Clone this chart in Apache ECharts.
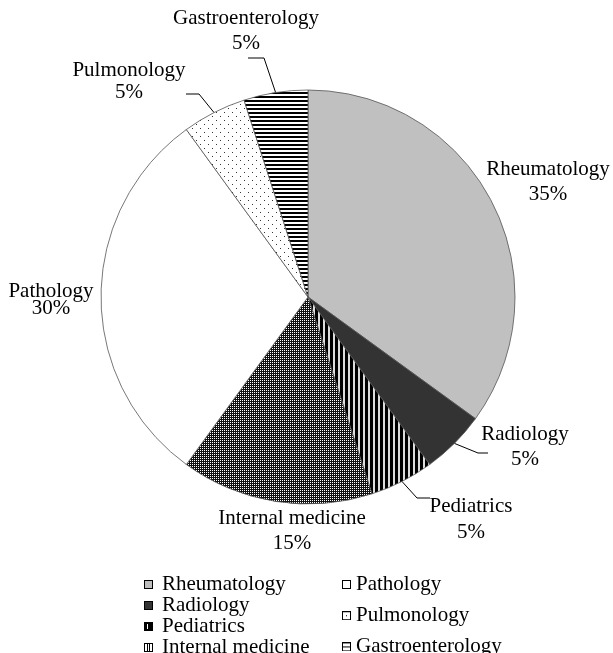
<!DOCTYPE html>
<html><head><meta charset="utf-8">
<script src="https://cdn.jsdelivr.net/npm/echarts@6/dist/echarts.min.js"></script>
<style>html,body{margin:0;padding:0;background:#fff}#c{width:613px;height:653px}</style>
</head><body><div id="c"></div>
<script>
const categories = ['Rheumatology','Radiology','Pediatrics','Internal medicine','Pathology','Pulmonology','Gastroenterology'];
const values = [35, 5, 5, 15, 30, 5, 5];
const percentLabels = ['35%','5%','5%','15%','30%','5%','5%'];

function canvasOf(w, h, draw) {
  const c = document.createElement('canvas');
  c.width = w; c.height = h;
  const g = c.getContext('2d');
  draw(g);
  return c;
}
function tile(w, h, draw) { return { image: canvasOf(w, h, draw), repeat: 'repeat' }; }

const fills = [
  '#c0c0c0',
  '#333333',
  tile(5, 5, g => { g.fillStyle = '#000'; g.fillRect(0,0,5,5); g.fillStyle = '#ddd'; g.fillRect(3,0,2,5); }),
  tile(2, 2, g => { g.fillStyle = '#111'; g.fillRect(0,0,2,2); g.fillStyle = '#fff'; g.fillRect(0,0,1,1); }),
  '#ffffff',
  tile(8, 8, g => { g.fillStyle = '#fff'; g.fillRect(0,0,8,8); g.fillStyle = '#333'; g.fillRect(0,0,1,1); g.fillRect(4,4,1,1); }),
  tile(4, 4, g => { g.fillStyle = '#fff'; g.fillRect(0,0,4,4); g.fillStyle = '#000'; g.fillRect(0,0,4,2); })
];

// legend icons (9x9)
function icon(draw) {
  const c = canvasOf(9, 9, g => {
    g.fillStyle = '#000'; g.fillRect(0,0,9,9);
    g.fillStyle = '#fff'; g.fillRect(1,1,7,7);
    draw(g);
  });
  return 'image://' + c.toDataURL();
}
const legendIcons = [
  icon(g => { g.fillStyle = '#bdbdbd'; g.fillRect(1,1,7,7); }),
  icon(g => { g.fillStyle = '#333'; g.fillRect(1,1,7,7); }),
  icon(g => { g.fillStyle = '#000'; g.fillRect(1,1,7,7); g.fillStyle = '#fff'; g.fillRect(3,2,1,5); }),
  icon(g => { g.fillStyle = '#000'; g.fillRect(3,1,1,7); g.fillRect(5,1,1,7); }),
  icon(g => {}),
  icon(g => { g.fillStyle = '#000'; g.fillRect(4,4,1,1); }),
  icon(g => { g.fillStyle = '#000'; g.fillRect(1,4,7,1); })
];

const showLine = [false, true, true, false, false, true, true];
// label block centre [x, y] and line height
const labelPos = {
  'Rheumatology': [548, 182, 25],
  'Radiology': [525, 447, 25],
  'Pediatrics': [471, 519, 26],
  'Internal medicine': [292, 531, 25],
  'Pathology': [51, 300, 17],
  'Pulmonology': [129, 81, 22],
  'Gastroenterology': [246, 30.5, 25]
};
// leader-line bend and end points
const linePts = {
  'Radiology': [[478, 453], [488, 453]],
  'Pediatrics': [[417, 498], [430, 498]],
  'Pulmonology': [[199, 94], [186, 94]],
  'Gastroenterology': [[264, 58], [248, 58]]
};

const font = '"Liberation Serif", "Times New Roman", serif';
const chart = echarts.init(document.getElementById('c'));
chart.setOption({
  animation: false,
  series: [{
    type: 'pie',
    center: [308, 297],
    radius: [0, 207],
    startAngle: 90,
    clockwise: true,
    data: categories.map((n, i) => ({
      name: n, value: values[i],
      itemStyle: { color: fills[i] },
      labelLine: { show: showLine[i] },
      label: { lineHeight: labelPos[n][2] }
    })),
    itemStyle: { borderColor: '#555', borderWidth: 0.8 },
    label: {
      show: true, position: 'outside', overflow: 'none',
      formatter: p => p.name + '\n' + percentLabels[p.dataIndex],
      fontFamily: font, fontSize: 21, color: '#000', align: 'center'
    },
    labelLine: { show: true, length: 15, length2: 12, lineStyle: { color: '#000', width: 1 } },
    labelLayout: p => {
      const n = categories[p.dataIndex];
      const pos = labelPos[n];
      const out = { x: pos[0], y: pos[1], align: 'center', verticalAlign: 'middle' };
      if (linePts[n] && p.labelLinePoints) {
        out.labelLinePoints = [p.labelLinePoints[0], linePts[n][0], linePts[n][1]];
      }
      return out;
    },
    emphasis: { disabled: true }
  }],
  legend: [{
    data: categories.slice(0, 4).map((n, i) => ({ name: n, icon: legendIcons[i] })),
    orient: 'vertical', left: 144, top: 574, height: 200, padding: 0,
    itemWidth: 9, itemHeight: 9, itemGap: 0,
    textStyle: { fontFamily: font, fontSize: 21, color: '#000', lineHeight: 20.3, padding: [0,0,0,4] },
    selectedMode: false
  }, {
    data: categories.slice(4).map((n, i) => ({ name: n, icon: legendIcons[i + 4] })),
    orient: 'vertical', left: 342, top: 574, height: 200, padding: 0,
    itemWidth: 9, itemHeight: 9, itemGap: 10.2,
    textStyle: { fontFamily: font, fontSize: 21, color: '#000', lineHeight: 20.3, padding: [0,0,0,0] },
    selectedMode: false
  }]
});
</script></body></html>
